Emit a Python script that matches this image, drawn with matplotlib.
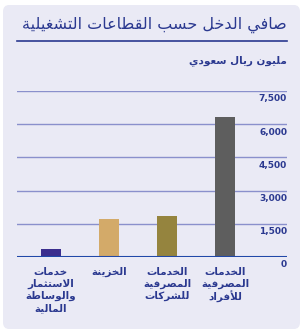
import matplotlib
matplotlib.use('Agg')
import matplotlib.pyplot as plt
from matplotlib.patches import FancyBboxPatch

# data (million SAR)
categories = ['خدمات\nالاستثمار\nوالوساطة\nالمالية', 'الخزينة',
              'الخدمات\nالمصرفية\nللشركات', 'الخدمات\nالمصرفية\nللأفراد']
values = [370, 1720, 1850, 6330]
bar_colors = ['#3b2e8e', '#d3aa69', '#95843e', '#5e5e5e']
yticks = [0, 1500, 3000, 4500, 6000, 7500]
title = 'صافي الدخل حسب القطاعات التشغيلية'
unit = 'مليون ريال سعودي'

NAVY = '#2b3990'

# --- minimal arabic shaping (matplotlib has no complex text layout) ---
FORMS = {
    'ا': (0xFE8D, 0xFE8E), 'أ': (0xFE83, 0xFE84), 'ب': (0xFE8F, 0xFE90, 0xFE91, 0xFE92),
    'ة': (0xFE93, 0xFE94), 'ت': (0xFE95, 0xFE96, 0xFE97, 0xFE98),
    'ث': (0xFE99, 0xFE9A, 0xFE9B, 0xFE9C), 'ج': (0xFE9D, 0xFE9E, 0xFE9F, 0xFEA0),
    'ح': (0xFEA1, 0xFEA2, 0xFEA3, 0xFEA4), 'خ': (0xFEA5, 0xFEA6, 0xFEA7, 0xFEA8),
    'د': (0xFEA9, 0xFEAA), 'ذ': (0xFEAB, 0xFEAC), 'ر': (0xFEAD, 0xFEAE), 'ز': (0xFEAF, 0xFEB0),
    'س': (0xFEB1, 0xFEB2, 0xFEB3, 0xFEB4), 'ش': (0xFEB5, 0xFEB6, 0xFEB7, 0xFEB8),
    'ص': (0xFEB9, 0xFEBA, 0xFEBB, 0xFEBC), 'ض': (0xFEBD, 0xFEBE, 0xFEBF, 0xFEC0),
    'ط': (0xFEC1, 0xFEC2, 0xFEC3, 0xFEC4), 'ظ': (0xFEC5, 0xFEC6, 0xFEC7, 0xFEC8),
    'ع': (0xFEC9, 0xFECA, 0xFECB, 0xFECC), 'غ': (0xFECD, 0xFECE, 0xFECF, 0xFED0),
    'ف': (0xFED1, 0xFED2, 0xFED3, 0xFED4), 'ق': (0xFED5, 0xFED6, 0xFED7, 0xFED8),
    'ك': (0xFED9, 0xFEDA, 0xFEDB, 0xFEDC), 'ل': (0xFEDD, 0xFEDE, 0xFEDF, 0xFEE0),
    'م': (0xFEE1, 0xFEE2, 0xFEE3, 0xFEE4), 'ن': (0xFEE5, 0xFEE6, 0xFEE7, 0xFEE8),
    'ه': (0xFEE9, 0xFEEA, 0xFEEB, 0xFEEC), 'و': (0xFEED, 0xFEEE),
    'ي': (0xFEF1, 0xFEF2, 0xFEF3, 0xFEF4),
    'ﻻ': (0xFEFB, 0xFEFC), 'ﻷ': (0xFEF7, 0xFEF8),
}


def shape_line(s):
    s = s.replace('لا', 'ﻻ').replace('لأ', 'ﻷ')
    out = []
    for i, ch in enumerate(s):
        if ch not in FORMS:
            out.append(ch)
            continue
        prev = s[i - 1] if i > 0 else ''
        nxt = s[i + 1] if i + 1 < len(s) else ''
        joins_prev = prev in FORMS and len(FORMS[prev]) == 4
        joins_next = len(FORMS[ch]) == 4 and nxt in FORMS
        f = FORMS[ch]
        if joins_prev and joins_next:
            idx = 3
        elif joins_prev:
            idx = 1
        elif joins_next:
            idx = 2
        else:
            idx = 0
        out.append(chr(f[idx]))
    return ''.join(out)[::-1]


def ar(s):
    return '\n'.join(shape_line(l) for l in s.split('\n'))


fig = plt.figure(figsize=(3.05, 3.34), dpi=100)
fig.patch.set_facecolor('white')
panel = FancyBboxPatch((3 / 305, 5 / 334), 297 / 305, 324 / 334,
                       boxstyle='round,pad=0,rounding_size=0.02',
                       transform=fig.transFigure, facecolor='#eaeaf5',
                       edgecolor='none', zorder=-5)
fig.patches.append(panel)

ax = fig.add_axes([17 / 305, (334 - 257) / 334, 270 / 305, 166 / 334])
ax.set_zorder(2)
ax.set_facecolor('none')
x = list(range(len(values)))
ax.bar(x, values, width=0.345, color=bar_colors, zorder=3)
ax.set_xlim(-0.586, 4.07)
ax.set_ylim(0, 7500)
for v in yticks[1:]:
    ax.axhline(v, color='#8a90cc', lw=1, zorder=1)
ax.axhline(0, color='#2148a8', lw=1.5, zorder=4)
for sp in ax.spines.values():
    sp.set_visible(False)
ax.set_xticks([])
ax.set_yticks([])

for v in yticks:
    ax.annotate(f'{v:,}', xy=(1, v), xycoords=('axes fraction', 'data'),
                xytext=(0, -2.5), textcoords='offset points', ha='right', va='top',
                fontsize=6.5, color=NAVY, fontweight='bold', annotation_clip=False)

for xi, c in zip(x, categories):
    ax.annotate(ar(c), xy=(xi, 0), xycoords='data', xytext=(0, -7),
                textcoords='offset points', ha='center', va='top',
                fontsize=7.5, fontweight='bold', color=NAVY, linespacing=1.25,
                multialignment='center', annotation_clip=False)

fig.text(287 / 305, 1 - 25 / 334, ar(title), ha='right', va='center',
         fontsize=11.5, color=NAVY)
fig.add_artist(plt.Line2D([17 / 305, 287 / 305], [1 - 41 / 334] * 2,
                          color=NAVY, lw=1.2, transform=fig.transFigure))
fig.text(287 / 305, 1 - 61 / 334, ar(unit), ha='right', va='center',
         fontsize=7.5, color=NAVY, fontweight='bold')

fig.savefig('out.png', dpi=100)
